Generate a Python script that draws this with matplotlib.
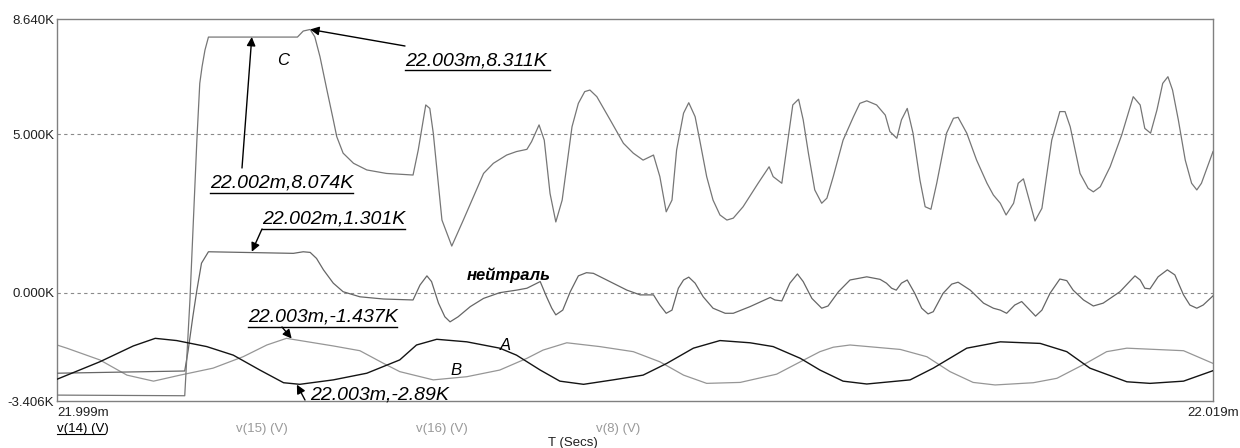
import matplotlib
matplotlib.use("Agg")
import matplotlib.pyplot as plt
from matplotlib.lines import Line2D

plt.rcParams['font.family'] = ['Liberation Sans', 'DejaVu Sans']

# ---------------- data (time in ms, voltage in kV) ----------------
t_c = [21.99900, 22.00121, 22.00125, 22.00130, 22.00136, 22.00142, 22.00147, 22.00151, 22.00156, 22.00162,
       22.00316, 22.00326, 22.00338, 22.00346, 22.00355, 22.00367, 22.00378, 22.00384, 22.00395, 22.00413,
       22.00436, 22.00470, 22.00516, 22.00525, 22.00538, 22.00545, 22.00551, 22.00566, 22.00583, 22.00603,
       22.00638, 22.00655, 22.00678, 22.00695, 22.00713, 22.00721, 22.00734, 22.00743, 22.00753, 22.00763,
       22.00774, 22.00791, 22.00802, 22.00813, 22.00822, 22.00834, 22.00857, 22.00880, 22.00897, 22.00914,
       22.00932, 22.00943, 22.00954, 22.00964, 22.00972, 22.00984, 22.00993, 22.01004, 22.01012, 22.01024,
       22.01035, 22.01047, 22.01059, 22.01070, 22.01087, 22.01113, 22.01132, 22.01139, 22.01154, 22.01162,
       22.01173, 22.01183, 22.01191, 22.01200, 22.01211, 22.01223, 22.01232, 22.01243, 22.01260, 22.01278,
       22.01289, 22.01301, 22.01318, 22.01333, 22.01341, 22.01353, 22.01361, 22.01371, 22.01381, 22.01393,
       22.01402, 22.01412, 22.01422, 22.01439, 22.01451, 22.01459, 22.01474, 22.01491, 22.01509, 22.01520,
       22.01532, 22.01542, 22.01555, 22.01563, 22.01572, 22.01582, 22.01592, 22.01604, 22.01621, 22.01635,
       22.01644, 22.01653, 22.01670, 22.01684, 22.01693, 22.01705, 22.01722, 22.01742, 22.01762, 22.01774,
       22.01782, 22.01792, 22.01803, 22.01813, 22.01822, 22.01830, 22.01840, 22.01852, 22.01863, 22.01872,
       22.01880, 22.01900]
v_c = [-3.22, -3.24, -1.90, -0.22, 2.30, 4.82, 6.61, 7.14, 7.66, 8.07,
       8.07, 8.26, 8.31, 8.08, 7.45, 6.40, 5.46, 4.93, 4.41, 4.09,
       3.88, 3.77, 3.72, 4.51, 5.93, 5.82, 5.04, 2.30, 1.48, 2.30,
       3.77, 4.09, 4.35, 4.46, 4.53, 4.77, 5.30, 4.82, 3.14, 2.24,
       2.93, 5.24, 5.98, 6.35, 6.40, 6.19, 5.46, 4.72, 4.41, 4.19,
       4.35, 3.67, 2.56, 2.93, 4.51, 5.67, 6.00, 5.56, 4.82, 3.67,
       2.93, 2.46, 2.30, 2.36, 2.72, 3.46, 3.98, 3.67, 3.46, 4.51,
       5.93, 6.11, 5.46, 4.41, 3.25, 2.83, 2.99, 3.67, 4.82, 5.56,
       5.98, 6.06, 5.93, 5.61, 5.09, 4.88, 5.46, 5.82, 5.04, 3.56,
       2.72, 2.64, 3.46, 5.04, 5.51, 5.54, 5.04, 4.19, 3.46, 3.09,
       2.83, 2.46, 2.83, 3.46, 3.60, 2.93, 2.27, 2.67, 4.82, 5.72,
       5.72, 5.24, 3.77, 3.30, 3.19, 3.35, 3.98, 4.98, 6.19, 5.93,
       5.19, 5.04, 5.77, 6.61, 6.82, 6.40, 5.46, 4.19, 3.46, 3.25,
       3.46, 4.46]

t_n = [21.99900, 22.00121, 22.00127, 22.00135, 22.00142, 22.00150, 22.00162, 22.00309, 22.00326, 22.00338,
       22.00349, 22.00361, 22.00378, 22.00395, 22.00424, 22.00465, 22.00516, 22.00528, 22.00540, 22.00548,
       22.00560, 22.00571, 22.00580, 22.00594, 22.00615, 22.00638, 22.00666, 22.00695, 22.00713, 22.00736,
       22.00747, 22.00756, 22.00763, 22.00775, 22.00788, 22.00802, 22.00816, 22.00828, 22.00851, 22.00886,
       22.00909, 22.00932, 22.00943, 22.00954, 22.00964, 22.00975, 22.00984, 22.00993, 22.01004, 22.01018,
       22.01035, 22.01056, 22.01070, 22.01099, 22.01134, 22.01142, 22.01154, 22.01168, 22.01181, 22.01191,
       22.01206, 22.01223, 22.01234, 22.01252, 22.01272, 22.01301, 22.01324, 22.01335, 22.01344, 22.01352,
       22.01361, 22.01371, 22.01384, 22.01396, 22.01407, 22.01416, 22.01433, 22.01448, 22.01459, 22.01480,
       22.01503, 22.01520, 22.01532, 22.01543, 22.01557, 22.01569, 22.01580, 22.01593, 22.01604, 22.01618,
       22.01635, 22.01647, 22.01658, 22.01676, 22.01693, 22.01710, 22.01739, 22.01765, 22.01774, 22.01782,
       22.01791, 22.01805, 22.01821, 22.01834, 22.01849, 22.01860, 22.01872, 22.01883, 22.01900]
v_n = [-2.53, -2.46, -1.80, -0.75, 0.09, 0.94, 1.30, 1.25, 1.30, 1.28,
       1.09, 0.73, 0.31, 0.04, -0.12, -0.19, -0.22, 0.25, 0.54, 0.36,
       -0.32, -0.75, -0.91, -0.75, -0.43, -0.17, 0.01, 0.09, 0.15, 0.36,
       -0.12, -0.48, -0.69, -0.54, 0.04, 0.54, 0.64, 0.62, 0.41, 0.09,
       -0.06, -0.06, -0.38, -0.64, -0.54, 0.15, 0.41, 0.50, 0.31, -0.12,
       -0.48, -0.64, -0.64, -0.43, -0.14, -0.22, -0.25, 0.31, 0.60, 0.36,
       -0.17, -0.48, -0.41, 0.04, 0.41, 0.51, 0.43, 0.31, 0.15, 0.09,
       0.31, 0.41, -0.01, -0.48, -0.66, -0.59, -0.01, 0.28, 0.34, 0.09,
       -0.32, -0.48, -0.54, -0.64, -0.38, -0.27, -0.48, -0.73, -0.54, -0.01,
       0.44, 0.39, 0.09, -0.22, -0.41, -0.32, 0.04, 0.54, 0.41, 0.15,
       0.13, 0.51, 0.73, 0.57, -0.06, -0.38, -0.48, -0.38, -0.09]

t_a = [21.99900, 21.99974, 22.00032, 22.00070, 22.00107, 22.00159, 22.00205, 22.00251, 22.00292, 22.00320,
       22.00378, 22.00436, 22.00493, 22.00522, 22.00557, 22.00609, 22.00666, 22.00695, 22.00736, 22.00770,
       22.00811, 22.00862, 22.00914, 22.00955, 22.01001, 22.01047, 22.01099, 22.01139, 22.01186, 22.01220,
       22.01260, 22.01301, 22.01376, 22.01416, 22.01474, 22.01532, 22.01601, 22.01647, 22.01687, 22.01751,
       22.01791, 22.01849, 22.01900]
v_a = [-2.72, -2.17, -1.67, -1.43, -1.50, -1.69, -1.96, -2.43, -2.83, -2.88,
       -2.74, -2.53, -2.11, -1.64, -1.46, -1.54, -1.74, -1.96, -2.43, -2.78,
       -2.88, -2.74, -2.59, -2.22, -1.74, -1.50, -1.57, -1.69, -2.06, -2.43,
       -2.78, -2.87, -2.74, -2.37, -1.74, -1.54, -1.59, -1.85, -2.37, -2.80,
       -2.85, -2.78, -2.45]

t_b = [21.99900, 21.99917, 21.99974, 22.00021, 22.00067, 22.00113, 22.00170, 22.00222, 22.00263, 22.00297,
       22.00378, 22.00424, 22.00465, 22.00493, 22.00551, 22.00609, 22.00666, 22.00713, 22.00741, 22.00782,
       22.00839, 22.00897, 22.00943, 22.00984, 22.01024, 22.01082, 22.01145, 22.01186, 22.01220, 22.01243,
       22.01272, 22.01359, 22.01405, 22.01445, 22.01485, 22.01523, 22.01589, 22.01630, 22.01682, 22.01716,
       22.01751, 22.01849, 22.01900]
v_b = [-1.64, -1.74, -2.11, -2.59, -2.78, -2.59, -2.37, -2.01, -1.64, -1.43,
       -1.67, -1.82, -2.22, -2.48, -2.74, -2.64, -2.43, -2.06, -1.80, -1.57,
       -1.69, -1.85, -2.17, -2.59, -2.85, -2.82, -2.56, -2.17, -1.85, -1.71,
       -1.64, -1.78, -2.01, -2.48, -2.82, -2.90, -2.83, -2.69, -2.20, -1.85,
       -1.74, -1.82, -2.22]

y_ticks = [-3.406, 0.0, 5.0, 8.640]
y_ticklabels = ["-3.406K", "0.000K", "5.000K", "8.640K"]
x_range = [21.999, 22.019]
x_ticklabels = ["21.999m", "22.019m"]
legend_labels = ["v(14) (V)", "v(15) (V)", "v(16) (V)", "v(8) (V)"]

# cursor annotations: (text, time ms, value kV)
cursor_texts = ["22.003m,8.311K", "22.002m,8.074K", "22.002m,1.301K", "22.003m,-1.437K", "22.003m,-2.89K"]
cursor_t = [22.00338, 22.00237, 22.00237, 22.00306, 22.00315]
cursor_v = [8.311, 8.074, 1.301, -1.437, -2.89]

# ---------------- figure ----------------
W, H = 1240, 448
fig = plt.figure(figsize=(W / 100, H / 100), dpi=100)
fig.patch.set_facecolor('white')

def P(x, y):
    return (x / W, 1 - y / H)

L, R, T, B = 57, 1213, 19, 401
ax = fig.add_axes([L / W, 1 - B / H, (R - L) / W, (B - T) / H])
ax.set_xlim(*x_range)
ax.set_ylim(y_ticks[0], y_ticks[-1])

for s in ax.spines.values():
    s.set_color('#808080')
    s.set_linewidth(1.0)

ax.axhline(0.0, color='#8a8a8a', lw=0.8, ls=(0, (3, 3)), zorder=1)
ax.axhline(5.0, color='#8a8a8a', lw=0.8, ls=(0, (3, 3)), zorder=1)

ax.plot(t_b, v_b, color='#969696', lw=0.9, zorder=2)
ax.plot(t_n, v_n, color='#666666', lw=0.9, zorder=3)
ax.plot(t_c, v_c, color='#767676', lw=0.9, zorder=3)
ax.plot(t_a, v_a, color='#141414', lw=1.0, zorder=4)

ax.set_yticks(y_ticks)
ax.set_yticklabels(y_ticklabels)
ax.tick_params(axis='y', length=0, pad=2, labelsize=9.5, colors='#202020')
ax.set_xticks(x_range)
ax.set_xticklabels(x_ticklabels)
ax.tick_params(axis='x', length=0, pad=4, labelsize=9.5, colors='#202020')
xl = ax.get_xticklabels()
xl[0].set_ha('left')

# legend-like labels below
leg_x = [57, 236, 416, 596]
leg_col = ['#000000', '#9a9a9a', '#9a9a9a', '#9a9a9a']
for lab, x, c in zip(legend_labels, leg_x, leg_col):
    fig.text(*P(x, 432), lab, fontsize=9.5, color=c, ha='left', va='baseline')
fig.add_artist(Line2D([57 / W, 104 / W], [1 - 434 / H, 1 - 434 / H], color='black', lw=0.8))
fig.text(*P(573, 446), "T (Secs)", fontsize=9.5, color='#202020', ha='center', va='baseline')

# cursor annotations
txt_pos = [(405, 65), (210, 187), (262, 223), (248, 321), (310, 399)]
uline = [(405, 550, 70), (210, 353, 193), (262, 405, 229), (248, 397, 327), None]
arrow_from = [(405, 46), (242, 168), (262, 229), (282, 327), (305, 400)]
for s, tt, vv, tp, ul, af in zip(cursor_texts, cursor_t, cursor_v, txt_pos, uline, arrow_from):
    fig.text(*P(*tp), s, fontsize=14, style='italic', color='black', ha='left', va='baseline')
    if ul is not None:
        fig.add_artist(Line2D([ul[0] / W, ul[1] / W], [1 - ul[2] / H, 1 - ul[2] / H], color='black', lw=1.0))
    ax.annotate('', xy=(tt, vv), xycoords='data', xytext=P(*af), textcoords='figure fraction',
                arrowprops=dict(arrowstyle='-|>', color='black', lw=1.0, mutation_scale=13,
                                shrinkA=0, shrinkB=0), annotation_clip=False)

# curve labels
fig.text(*P(277, 65), "C", fontsize=12, style='italic', color='black', ha='left', va='baseline')
fig.text(*P(467, 280), "нейтраль", fontsize=12, style='italic', weight='bold', color='black', ha='left', va='baseline')
fig.text(*P(500, 350), "A", fontsize=12, style='italic', color='black', ha='left', va='baseline')
fig.text(*P(450, 375), "B", fontsize=12, style='italic', color='black', ha='left', va='baseline')

fig.savefig('out.png', dpi=100)
